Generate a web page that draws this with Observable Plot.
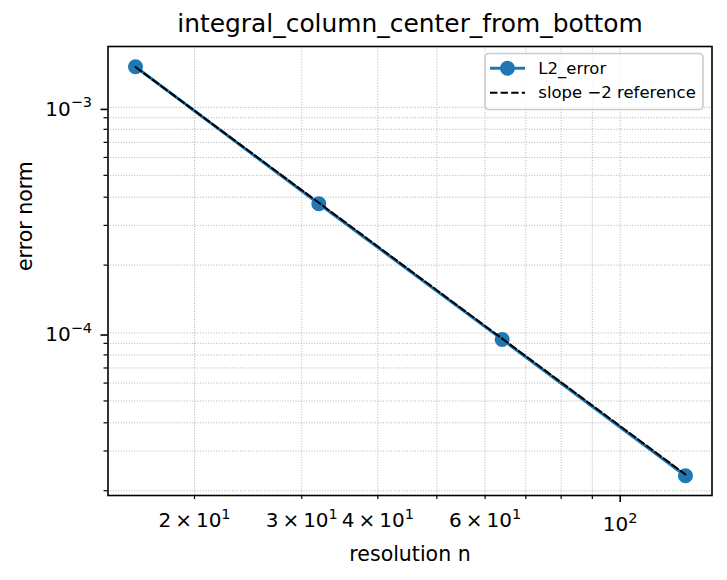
<!DOCTYPE html>
<html>
<head>
<meta charset="utf-8">
<script src="https://cdn.jsdelivr.net/npm/d3@7"></script>
<script src="https://cdn.jsdelivr.net/npm/@observablehq/plot@0.6"></script>
<style>
  html, body { margin: 0; padding: 0; background: white; }
  #chart { width: 727px; height: 580px; }
  svg { font-family: "DejaVu Sans", sans-serif; }
</style>
</head>
<body>
<div id="chart"></div>
<script>
// ---- data ----
const resolution = [16, 32, 64, 128];
const l2Error = [1.514e-3, 3.74e-4, 9.37e-5, 2.33e-5];
const slopeRef = [1.51e-3, 3.78e-4, 9.45e-5, 2.36e-5];
const seriesNames = ["L2_error", "slope \u22122 reference"];
const chartTitle = "integral_column_center_from_bottom";
const xLabel = "resolution n";
const yLabel = "error norm";

// ---- ticks ----
const xMajorTicks = [100];
const xMajorLabels = ["10^2"];
const xMinorLabeledTicks = [20, 30, 40, 60];
const xMinorLabels = ["2\u2009\u00d7\u200910^1", "3\u2009\u00d7\u200910^1", "4\u2009\u00d7\u200910^1", "6\u2009\u00d7\u200910^1"];
const xMinorUnlabeledTicks = [50, 70, 80, 90];
const yMajorTicks = [1e-3, 1e-4];
const yMajorLabels = ["10^\u22123", "10^\u22124"];
const yMinorTicks = [2e-5, 3e-5, 4e-5, 5e-5, 6e-5, 7e-5, 8e-5, 9e-5, 2e-4, 3e-4, 4e-4, 5e-4, 6e-4, 7e-4, 8e-4, 9e-4];

const errData = resolution.map((n, i) => ({n, e: l2Error[i]}));
const refData = resolution.map((n, i) => ({n, e: slopeRef[i]}));

const blue = "#1f77b4";
const gridStyle = {stroke: "#b0b0b0", strokeWidth: 1, strokeDasharray: "1,1.65", strokeOpacity: 1};

const chart = Plot.plot({
  width: 727,
  height: 580,
  marginLeft: 107.5,
  marginRight: 15.5,
  marginTop: 46,
  marginBottom: 85,
  x: {type: "log", domain: [14.42, 141.5]},
  y: {type: "log", domain: [1.905e-5, 1.862e-3]},
  style: {fontFamily: "DejaVu Sans", fontSize: "20px", background: "white", color: "black"},
  marks: [
    Plot.gridX([...xMinorLabeledTicks, ...xMinorUnlabeledTicks, ...xMajorTicks], gridStyle),
    Plot.gridY([...yMinorTicks, ...yMajorTicks], gridStyle),
    Plot.axisX(xMinorLabeledTicks, {anchor: "bottom", tickSize: 4, tickPadding: 13.5, strokeWidth: 1.2, fontSize: 20,
      tickFormat: d => xMinorLabels[xMinorLabeledTicks.indexOf(d)], label: null}),
    Plot.axisX(xMinorUnlabeledTicks, {anchor: "bottom", tickSize: 4, strokeWidth: 1.2, tickFormat: () => "", label: null}),
    Plot.axisX(xMajorTicks, {anchor: "bottom", tickSize: 7, tickPadding: 14.5, strokeWidth: 1.6, fontSize: 20,
      tickFormat: d => xMajorLabels[xMajorTicks.indexOf(d)], label: null}),
    Plot.axisY(yMinorTicks, {anchor: "left", tickSize: 4, strokeWidth: 1.2, tickFormat: () => "", label: null}),
    Plot.axisY(yMajorTicks, {anchor: "left", tickSize: 7, tickPadding: 9, strokeWidth: 1.6, fontSize: 20, dy: 2,
      tickFormat: d => yMajorLabels[yMajorTicks.indexOf(d)], label: null}),
    Plot.line(errData, {x: "n", y: "e", stroke: blue, strokeWidth: 3}),
    Plot.dot(errData, {x: "n", y: "e", r: 7.5, fill: blue, stroke: "none"}),
    Plot.line(refData, {x: "n", y: "e", stroke: "black", strokeWidth: 2, strokeDasharray: "7.4,3.2"}),
    Plot.frame({stroke: "black", strokeWidth: 1.6}),
    Plot.text([chartTitle], {frameAnchor: "top", lineAnchor: "middle", dy: -22.2, fontSize: 24.9, text: d => d}),
    Plot.text([xLabel], {frameAnchor: "bottom", lineAnchor: "middle", dy: 58.6, fontSize: 20.5, text: d => d}),
    Plot.text([yLabel], {frameAnchor: "left", lineAnchor: "middle", dx: -82.2, rotate: -90, fontSize: 20.5, text: d => d})
  ]
});

// superscripts
const ns = "http://www.w3.org/2000/svg";
chart.querySelectorAll("text").forEach(t => {
  const s = t.textContent;
  if (!s.includes("^")) return;
  const [b, e] = s.split("^");
  while (t.firstChild) t.removeChild(t.firstChild);
  const t1 = document.createElementNS(ns, "tspan");
  t1.textContent = b;
  t.appendChild(t1);
  const t2 = document.createElementNS(ns, "tspan");
  t2.setAttribute("font-size", "14.5px");
  t2.setAttribute("dy", "-8.4");
  t2.textContent = e;
  t.appendChild(t2);
});

// legend
const svg = d3.select(chart);
const lg = svg.append("g").attr("font-family", "DejaVu Sans").attr("font-size", "16.5px")
  .attr("text-anchor", "start").attr("fill", "black");
lg.append("rect").attr("x", 485).attr("y", 53.5).attr("width", 218).attr("height", 56)
  .attr("rx", 4).attr("fill", "white").attr("fill-opacity", 0.8)
  .attr("stroke", "#cccccc").attr("stroke-width", 1.6);
lg.append("line").attr("x1", 490).attr("x2", 525).attr("y1", 68.3).attr("y2", 68.3)
  .attr("stroke", blue).attr("stroke-width", 3);
lg.append("circle").attr("cx", 507.5).attr("cy", 68.3).attr("r", 7.5).attr("fill", blue);
lg.append("text").attr("x", 538.3).attr("y", 73.8).attr("text-anchor", "start").text(seriesNames[0]);
lg.append("line").attr("x1", 490).attr("x2", 525).attr("y1", 92.7).attr("y2", 92.7)
  .attr("stroke", "black").attr("stroke-width", 2).attr("stroke-dasharray", "7.4,3.2");
lg.append("text").attr("x", 538.3).attr("y", 98.2).attr("text-anchor", "start").text(seriesNames[1]);

document.getElementById("chart").appendChild(chart);
</script>
</body>
</html>
